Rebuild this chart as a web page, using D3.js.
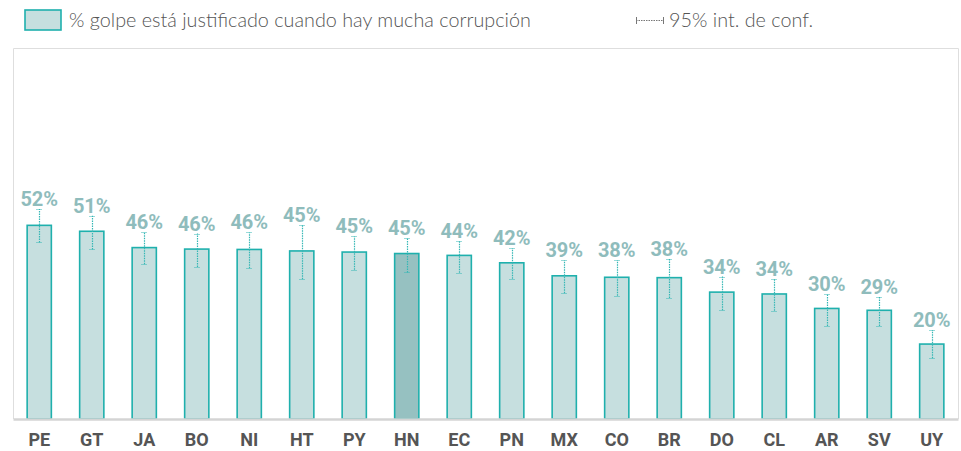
<!DOCTYPE html>
<html>
<head>
<meta charset="utf-8">
<script src="https://cdn.jsdelivr.net/npm/d3@7"></script>
<style>
  body { margin: 0; background: #fff; }
  svg { display: block; }
</style>
</head>
<body>
<svg width="961" height="451"></svg>
<script>
// Data
const countries = ['PE', 'GT', 'JA', 'BO', 'NI', 'HT', 'PY', 'HN', 'EC', 'PN', 'MX', 'CO', 'BR', 'DO', 'CL', 'AR', 'SV', 'UY'];
const values = [52.2, 50.6, 46.2, 45.8, 45.7, 45.3, 45.0, 44.6, 44.1, 42.1, 38.6, 38.2, 38.1, 34.2, 33.7, 29.8, 29.3, 20.2];
const ciLow = [47.6, 45.7, 41.7, 41.0, 40.6, 37.7, 40.2, 39.5, 39.4, 37.8, 33.9, 33.2, 32.6, 29.3, 29.2, 25.1, 25.1, 16.4];
const ciHigh = [56.6, 54.8, 50.5, 50.0, 50.3, 52.3, 49.2, 48.9, 48.0, 46.0, 42.8, 42.8, 43.1, 38.4, 37.7, 33.6, 33.0, 24.0];
const highlight = 'HN';

const seriesLabel = '% golpe está justificado cuando hay mucha corrupción';
const ciLabel = '95% int. de conf.';

const svg = d3.select('svg');
const plot = {left: 13, right: 958, top: 48, bottom: 419};

const x = d3.scaleBand()
  .domain(countries)
  .range([plot.left, plot.right])
  .paddingInner(0.52)
  .paddingOuter(0.26);

const y = d3.scaleLinear()
  .domain([0, 100])
  .range([plot.bottom, plot.top]);

const teal = '#1fb0ad';
const dotTeal = '#35b7b5';

// Frame
svg.append('path')
  .attr('d', `M${plot.left + 0.5},${plot.bottom}V${plot.top + 0.5}H${plot.right + 0.5}V${plot.bottom}`)
  .attr('fill', 'none')
  .attr('stroke', '#dedede')
  .attr('stroke-width', 1);

const data = countries.map((c, i) => ({c, v: values[i], lo: ciLow[i], hi: ciHigh[i]}));

// Bars
svg.append('g')
  .selectAll('rect')
  .data(data).enter()
  .append('rect')
  .attr('x', d => x(d.c) + 0.5)
  .attr('y', d => y(d.v))
  .attr('width', x.bandwidth() - 1)
  .attr('height', d => y(0) - y(d.v))
  .attr('fill', d => d.c === highlight ? '#96c1c1' : '#c6dfdf')
  .attr('stroke', teal)
  .attr('stroke-width', 1.6);

// Axis (bottom)
const xAxis = svg.append('g')
  .attr('transform', `translate(0,${plot.bottom})`)
  .call(d3.axisBottom(x).tickSize(0).tickPadding(14));
xAxis.select('.domain')
  .attr('stroke', '#d4d4d4')
  .attr('stroke-width', 2.5);
xAxis.selectAll('text')
  .attr('font-family', 'Roboto')
  .attr('font-size', 18)
  .attr('font-weight', 'bold')
  .attr('fill', '#555');

// Error bars
const eb = svg.append('g')
  .selectAll('g')
  .data(data).enter()
  .append('g')
  .attr('transform', d => `translate(${Math.round(x(d.c) + x.bandwidth() / 2) + 0.5},0)`);
eb.append('line')
  .attr('y1', d => y(d.lo))
  .attr('y2', d => y(d.hi))
  .attr('stroke', dotTeal)
  .attr('stroke-width', 1.2)
  .attr('stroke-dasharray', '1.5,1');
eb.selectAll('.cap')
  .data(d => [d.lo, d.hi]).enter()
  .append('line')
  .attr('class', 'cap')
  .attr('x1', -3).attr('x2', 3)
  .attr('y1', d => Math.round(y(d)) + 0.5)
  .attr('y2', d => Math.round(y(d)) + 0.5)
  .attr('stroke', dotTeal)
  .attr('stroke-width', 1)
  .attr('stroke-dasharray', '1,1');

// Value labels
svg.append('g')
  .selectAll('text')
  .data(data).enter()
  .append('text')
  .attr('x', d => x(d.c) + x.bandwidth() / 2)
  .attr('y', d => y(d.hi) - 3)
  .attr('text-anchor', 'middle')
  .attr('font-family', 'Roboto')
  .attr('font-size', 20)
  .attr('font-weight', 'bold')
  .attr('fill', '#8fbcbc')
  .text(d => Math.round(d.v) + '%');

// Legend
const legend = svg.append('g');
legend.append('rect')
  .attr('x', 25).attr('y', 10)
  .attr('width', 36).attr('height', 20)
  .attr('fill', '#c6dfdf')
  .attr('stroke', teal)
  .attr('stroke-width', 1.6);
legend.append('text')
  .attr('x', 69).attr('y', 27)
  .attr('font-family', 'Lato, sans-serif')
  .attr('font-size', 19.8)
  .attr('font-weight', 300)
  .attr('fill', '#555')
  .text(seriesLabel);

legend.append('line')
  .attr('x1', 636).attr('x2', 663)
  .attr('y1', 20.5).attr('y2', 20.5)
  .attr('stroke', '#777')
  .attr('stroke-dasharray', '1.5,1');
[636, 663].forEach(px => {
  legend.append('line')
    .attr('x1', px + 0.5).attr('x2', px + 0.5)
    .attr('y1', 17).attr('y2', 24)
    .attr('stroke', '#777');
});
legend.append('text')
  .attr('x', 669).attr('y', 27)
  .attr('font-family', 'Lato, sans-serif')
  .attr('font-size', 19.8)
  .attr('font-weight', 300)
  .attr('fill', '#555')
  .text(ciLabel);
</script>
</body>
</html>
